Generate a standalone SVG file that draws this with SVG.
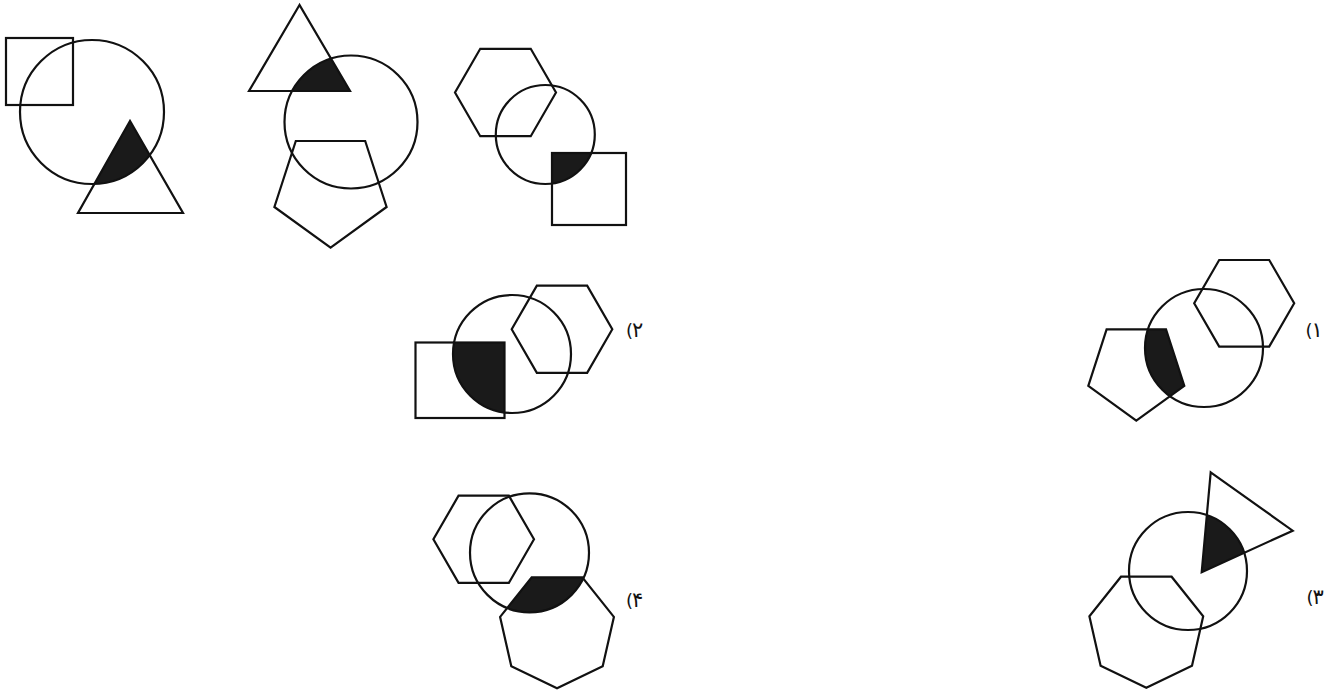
<svg xmlns="http://www.w3.org/2000/svg" width="1338" height="691" viewBox="0 0 1338 691">
<style>
.o{fill:none;stroke:#111;stroke-width:2.2;stroke-linejoin:miter}
.s{fill:#1a1a1a;stroke:none}
.t{font-family:"DejaVu Sans",sans-serif;font-size:18px;fill:#111}
.d{font-size:21px}
</style>
<defs>
<clipPath id="c1"><circle cx="92" cy="112" r="72"/></clipPath>
<clipPath id="c2"><circle cx="351" cy="122" r="66.5"/></clipPath>
<clipPath id="c3"><circle cx="545.3" cy="134.5" r="49.5"/></clipPath>
<clipPath id="c4"><circle cx="512" cy="354" r="59"/></clipPath>
<clipPath id="c5"><circle cx="1204" cy="348" r="59"/></clipPath>
<clipPath id="c6"><circle cx="529.5" cy="552.8" r="59.5"/></clipPath>
<clipPath id="c7"><circle cx="1188" cy="571" r="59"/></clipPath>
</defs>
<rect width="1338" height="691" fill="#fff"/>

<g id="fig1">
<polygon class="s" clip-path="url(#c1)" points="130,121 78,213 183,213"/>
<rect class="o" x="6" y="38" width="67" height="67"/>
<circle class="o" cx="92" cy="112" r="72"/>
<polygon class="o" points="130,121 78,213 183,213"/>
</g>

<g id="fig2">
<polygon class="s" clip-path="url(#c2)" points="299.5,5 249,91 350,91"/>
<polygon class="o" points="299.5,5 249,91 350,91"/>
<circle class="o" cx="351" cy="122" r="66.5"/>
<polygon class="o" points="330.6,247.7 386.6,207 365.2,141 295.8,141 274.4,207"/>
</g>

<g id="fig3">
<rect class="s" clip-path="url(#c3)" x="552" y="153" width="74" height="72"/>
<polygon class="o" points="556,92.5 530.75,136.2 480.25,136.2 455,92.5 480.25,48.8 530.75,48.8"/>
<circle class="o" cx="545.3" cy="134.5" r="49.5"/>
<rect class="o" x="552" y="153" width="74" height="72"/>
</g>

<g id="option2">
<rect class="s" clip-path="url(#c4)" x="415.5" y="342.5" width="89" height="75.5"/>
<rect class="o" x="415.5" y="342.5" width="89" height="75.5"/>
<circle class="o" cx="512" cy="354" r="59"/>
<polygon class="o" points="612.3,329.3 587.15,372.9 536.85,372.9 511.7,329.3 536.85,285.7 587.15,285.7"/>
<text class="t" x="626" y="337">(<tspan class="d" dx="-1">۲</tspan></text>
</g>

<g id="option1">
<polygon class="s" clip-path="url(#c5)" points="1136.3,420.7 1184.3,385.8 1166,329.3 1106.6,329.3 1088.3,385.8"/>
<polygon class="o" points="1294.2,303.3 1269.2,346.6 1219.2,346.6 1194.2,303.3 1219.2,260 1269.2,260"/>
<circle class="o" cx="1204" cy="348" r="59"/>
<polygon class="o" points="1136.3,420.7 1184.3,385.8 1166,329.3 1106.6,329.3 1088.3,385.8"/>
<text class="t" x="1305.5" y="337">(<tspan class="d" dx="-1">۱</tspan></text>
</g>

<g id="option4">
<polygon class="s" clip-path="url(#c6)" points="557,688.3 511.3,666.3 500.1,616.9 531.7,577.3 582.3,577.3 613.9,616.9 602.7,666.3"/>
<polygon class="o" points="534,539.3 508.85,582.9 458.55,582.9 433.4,539.3 458.55,495.7 508.85,495.7"/>
<circle class="o" cx="529.5" cy="552.8" r="59.5"/>
<polygon class="o" points="557,688.3 511.3,666.3 500.1,616.9 531.7,577.3 582.3,577.3 613.9,616.9 602.7,666.3"/>
<text class="t" x="626" y="607">(<tspan class="d" dx="-1">۴</tspan></text>
</g>

<g id="option3">
<polygon class="s" clip-path="url(#c7)" points="1210.7,472.3 1292.7,530.7 1201.7,572.3"/>
<polygon class="o" points="1210.7,472.3 1292.7,530.7 1201.7,572.3"/>
<circle class="o" cx="1188" cy="571" r="59"/>
<polygon class="o" points="1146.3,687.7 1100.6,665.7 1089.4,616.3 1121,576.7 1171.6,576.7 1203.2,616.3 1192,665.7"/>
<text class="t" x="1306.5" y="603.5">(<tspan class="d" dx="-1">۳</tspan></text>
</g>
</svg>
